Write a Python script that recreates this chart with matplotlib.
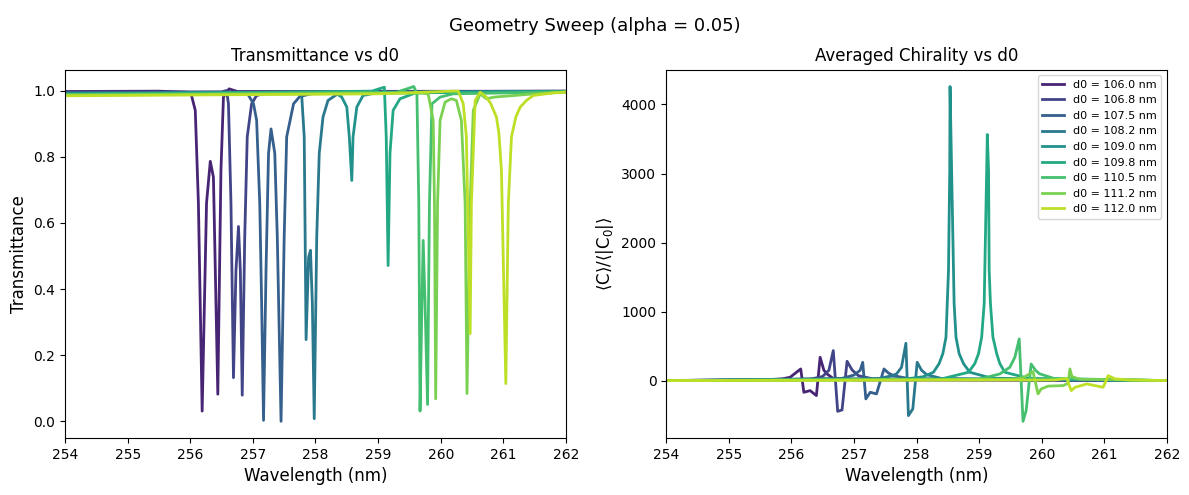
import numpy as np
import matplotlib
matplotlib.use('Agg')
import matplotlib.pyplot as plt

d0 = [106.0, 106.8, 107.5, 108.2, 109.0, 109.8, 110.5, 111.2, 112.0]

# transmittance spectra (wavelength nm, T)
wl_T1 = [254.0, 255.5, 255.95, 256.02, 256.08, 256.13, 256.19, 256.26, 256.32, 256.37, 256.44, 256.49, 256.53, 256.62, 256.75, 262.0]
T1 = [0.997, 0.998, 0.995, 0.985, 0.94, 0.66, 0.031, 0.66, 0.786, 0.738, 0.082, 0.758, 0.98, 1.005, 0.997, 0.998]

wl_T2 = [254.0, 256.5, 256.58, 256.61, 256.65, 256.69, 256.73, 256.77, 256.80, 256.83, 256.87, 256.91, 256.98, 257.06, 257.3, 262.0]
T2 = [0.995, 0.996, 1.0, 0.96, 0.66, 0.132, 0.456, 0.589, 0.456, 0.079, 0.557, 0.86, 0.96, 0.985, 0.995, 0.998]

wl_T3 = [254.0, 256.9, 257.01, 257.06, 257.11, 257.14, 257.17, 257.21, 257.25, 257.29, 257.35, 257.39, 257.45, 257.50, 257.54, 257.65, 257.75, 258.0, 262.0]
T3 = [0.993, 0.995, 0.96, 0.91, 0.658, 0.356, 0.003, 0.456, 0.81, 0.884, 0.81, 0.557, 0.0, 0.557, 0.86, 0.96, 0.982, 0.993, 0.997]

wl_T4 = [254.0, 257.7, 257.78, 257.82, 257.85, 257.89, 257.92, 257.95, 257.98, 258.02, 258.06, 258.12, 258.20, 258.34, 258.6, 262.0]
T4 = [0.992, 0.994, 0.985, 0.86, 0.247, 0.496, 0.517, 0.356, 0.008, 0.557, 0.81, 0.92, 0.97, 0.988, 0.994, 0.997]

wl_T5 = [254.0, 258.3, 258.42, 258.50, 258.54, 258.58, 258.60, 258.66, 258.76, 259.0, 262.0]
T5 = [0.99, 0.995, 0.98, 0.95, 0.86, 0.728, 0.86, 0.95, 0.985, 0.994, 0.997]

wl_T6 = [254.0, 258.9, 259.10, 259.13, 259.16, 259.19, 259.24, 259.35, 259.6, 262.0]
T6 = [0.989, 0.998, 1.01, 0.86, 0.471, 0.81, 0.94, 0.975, 0.993, 0.997]

wl_T7 = [254.0, 259.3, 259.46, 259.57, 259.62, 259.65, 259.67, 259.70, 259.72, 259.75, 259.79, 259.82, 259.86, 259.99, 260.2, 262.0]
T7 = [0.988, 0.995, 1.005, 1.012, 0.99, 0.658, 0.031, 0.356, 0.547, 0.356, 0.051, 0.658, 0.96, 0.98, 0.99, 0.996]

wl_T8 = [254.0, 259.7, 259.80, 259.88, 259.90, 259.92, 259.95, 259.99, 260.07, 260.17, 260.25, 260.33, 260.39, 260.42, 260.47, 260.52, 260.63, 260.73, 260.85, 261.5, 262.0]
T8 = [0.986, 0.992, 0.99, 0.91, 0.66, 0.068, 0.66, 0.91, 0.965, 0.975, 0.97, 0.91, 0.658, 0.084, 0.658, 0.94, 0.99, 0.975, 0.98, 0.99, 0.995]

wl_T9 = [254.0, 259.0, 260.2, 260.28, 260.36, 260.41, 260.47, 260.49, 260.55, 260.63, 260.73, 260.80, 260.89, 260.93, 260.97, 261.04, 261.08, 261.13, 261.20, 261.27, 261.37, 261.48, 261.8, 262.0]
T9 = [0.984, 0.99, 0.998, 0.998, 0.96, 0.86, 0.265, 0.658, 0.97, 0.995, 0.98, 0.96, 0.92, 0.87, 0.758, 0.114, 0.658, 0.86, 0.92, 0.95, 0.97, 0.985, 0.993, 0.995]

# averaged chirality spectra (wavelength nm, <C>/<|C0|>)
wl_C1 = [254.0, 255.5, 255.85, 255.98, 256.15, 256.20, 256.30, 256.40, 256.46, 256.52, 256.57, 256.67, 257.0, 262.0]
C1 = [0, 5, 25, 48, 169, -169, -145, -217, 338, 150, 97, 30, 10, 0]

wl_C2 = [254.0, 256.3, 256.5, 256.6, 256.67, 256.74, 256.81, 256.89, 256.97, 257.07, 257.3, 262.0]
C2 = [0, 20, 60, 150, 435, -445, -425, 280, 155, 72, 25, 0]

wl_C3 = [254.0, 256.8, 257.0, 257.1, 257.14, 257.19, 257.26, 257.36, 257.48, 257.55, 257.63, 257.9, 262.0]
C3 = [0, 30, 80, 150, 265, -265, -169, -193, 169, 110, 72, 25, 0]

wl_C4 = [254.0, 257.4, 257.6, 257.68, 257.76, 257.83, 257.87, 257.94, 258.01, 258.08, 258.16, 258.4, 262.0]
C4 = [0, 30, 70, 97, 193, 541, -507, -410, 265, 150, 87, 30, 0]

wl_C5 = [254.0, 257.8, 258.1, 258.27, 258.36, 258.42, 258.47, 258.49, 258.51, 258.53, 258.535, 258.56, 258.59, 258.60, 258.63, 258.68, 258.75, 258.85, 259.2, 262.0]
C5 = [0, 20, 55, 121, 246, 391, 628, 1115, 1594, 3043, 4260, 3043, 1594, 1115, 628, 391, 246, 121, 35, 0]

wl_C6 = [254.0, 258.4, 258.83, 258.93, 258.99, 259.04, 259.08, 259.09, 259.12, 259.13, 259.15, 259.16, 259.18, 259.22, 259.28, 259.33, 259.41, 259.8, 262.0]
C6 = [0, 25, 121, 246, 391, 628, 1115, 1594, 3043, 3565, 3043, 1594, 1115, 628, 391, 246, 121, 30, 0]

wl_C7 = [254.0, 259.0, 259.33, 259.49, 259.57, 259.64, 259.70, 259.75, 259.83, 259.9, 259.96, 260.2, 262.0]
C7 = [0, 20, 97, 193, 338, 604, -590, -435, 240, 150, 100, 30, 0]

wl_C8 = [254.0, 259.5, 259.7, 259.86, 259.94, 259.99, 260.1, 260.34, 260.42, 260.45, 260.48, 260.6, 262.0]
C8 = [0, 20, 40, 130, -193, -121, -80, -72, -40, 169, 60, 20, 0]

wl_C9 = [254.0, 260.2, 260.4, 260.47, 260.53, 260.72, 260.98, 261.06, 261.17, 261.4, 262.0]
C9 = [0, 10, 30, -145, -97, -48, -97, 72, 25, 10, 0]

wl_T = [wl_T1, wl_T2, wl_T3, wl_T4, wl_T5, wl_T6, wl_T7, wl_T8, wl_T9]
T = [T1, T2, T3, T4, T5, T6, T7, T8, T9]
wl_C = [wl_C1, wl_C2, wl_C3, wl_C4, wl_C5, wl_C6, wl_C7, wl_C8, wl_C9]
C = [C1, C2, C3, C4, C5, C6, C7, C8, C9]

colors = plt.cm.viridis(np.linspace(0.1, 0.9, len(d0)))

fig, axes = plt.subplots(nrows=1, ncols=2, figsize=(11.89, 4.95), dpi=100)

for i in range(len(d0)):
    axes[0].plot(wl_T[i], T[i], color=colors[i], lw=2)
    axes[1].plot(wl_C[i], C[i], color=colors[i], lw=2, label=f'd0 = {d0[i]:.1f} nm')

axes[0].set_title('Transmittance vs d0')
axes[0].set_xlabel('Wavelength (nm)', fontsize=12)
axes[0].set_ylabel('Transmittance', fontsize=12)
axes[0].set_xlim(254, 262)

axes[1].set_title('Averaged Chirality vs d0')
axes[1].set_xlabel('Wavelength (nm)', fontsize=12)
axes[1].set_ylabel('⟨C⟩/⟨|C$_0$|⟩', fontsize=12)
axes[1].set_xlim(254, 262)
axes[1].legend(loc='upper right', fontsize=8)

fig.suptitle('Geometry Sweep (alpha = 0.05)', fontsize=13, y=0.965)
fig.subplots_adjust(left=0.0547, right=0.9815, bottom=0.115, top=0.859, wspace=0.2)
fig.savefig('out.png', dpi=100)
